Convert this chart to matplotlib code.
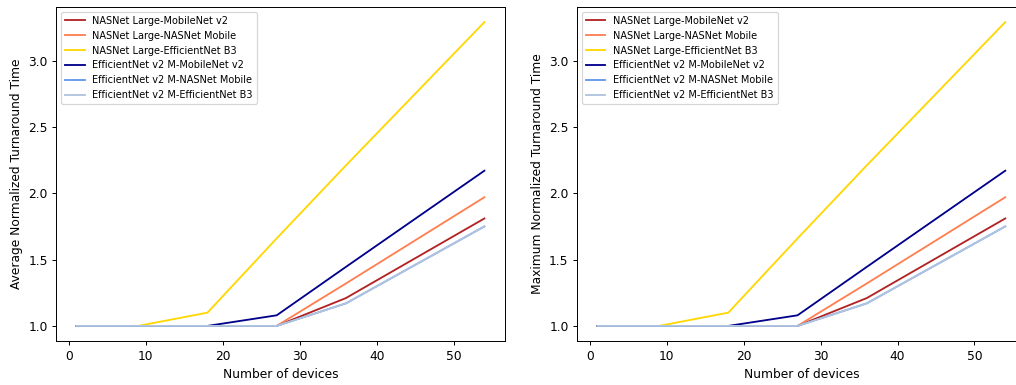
import matplotlib
matplotlib.use("Agg")
import matplotlib.pyplot as plt

devices = [1, 9, 18, 27, 36, 54]

series_names = [
    "NASNet Large-MobileNet v2",
    "NASNet Large-NASNet Mobile",
    "NASNet Large-EfficientNet B3",
    "EfficientNet v2 M-MobileNet v2",
    "EfficientNet v2 M-NASNet Mobile",
    "EfficientNet v2 M-EfficientNet B3",
]

# average normalized turnaround time
avg_nl_mobilenet  = [1.0, 1.0, 1.0, 1.0, 1.21, 1.81]
avg_nl_nasmobile  = [1.0, 1.0, 1.0, 1.0, 1.32, 1.97]
avg_nl_effb3      = [1.0, 1.0, 1.10, 1.66, 2.21, 3.29]
avg_ev2_mobilenet = [1.0, 1.0, 1.0, 1.08, 1.445, 2.17]
avg_ev2_nasmobile = [1.0, 1.0, 1.0, 1.0, 1.17, 1.75]
avg_ev2_effb3     = [1.0, 1.0, 1.0, 1.0, 1.17, 1.75]

# maximum normalized turnaround time
max_nl_mobilenet  = [1.0, 1.0, 1.0, 1.0, 1.21, 1.81]
max_nl_nasmobile  = [1.0, 1.0, 1.0, 1.0, 1.32, 1.97]
max_nl_effb3      = [1.0, 1.0, 1.10, 1.66, 2.21, 3.29]
max_ev2_mobilenet = [1.0, 1.0, 1.0, 1.08, 1.445, 2.17]
max_ev2_nasmobile = [1.0, 1.0, 1.0, 1.0, 1.17, 1.75]
max_ev2_effb3     = [1.0, 1.0, 1.0, 1.0, 1.17, 1.75]

colors = ["firebrick", "coral", "gold", "darkblue", "cornflowerblue", "lightsteelblue"]

avg_series = [avg_nl_mobilenet, avg_nl_nasmobile, avg_nl_effb3,
              avg_ev2_mobilenet, avg_ev2_nasmobile, avg_ev2_effb3]
max_series = [max_nl_mobilenet, max_nl_nasmobile, max_nl_effb3,
              max_ev2_mobilenet, max_ev2_nasmobile, max_ev2_effb3]

# original looks like a downscaled render, so draw at dpi 88
fig, axes = plt.subplots(1, 2, figsize=(1016 / 88, 385 / 88), dpi=88)
# right panel runs a little past the image edge, like the cropped original
fig.subplots_adjust(left=0.0554, right=1.0095, bottom=0.114, top=0.982, wspace=0.1613)

panels = [(axes[0], avg_series, "Average Normalized Turnaround Time"),
          (axes[1], max_series, "Maximum Normalized Turnaround Time")]

for ax, data, ylabel in panels:
    for name, vals, c in zip(series_names, data, colors):
        ax.plot(devices, vals, color=c, label=name)
    ax.set_xlabel("Number of devices")
    ax.set_ylabel(ylabel)
    ax.legend(loc="upper left", fontsize=8)

plt.savefig("out.png", dpi=88)
plt.close()
